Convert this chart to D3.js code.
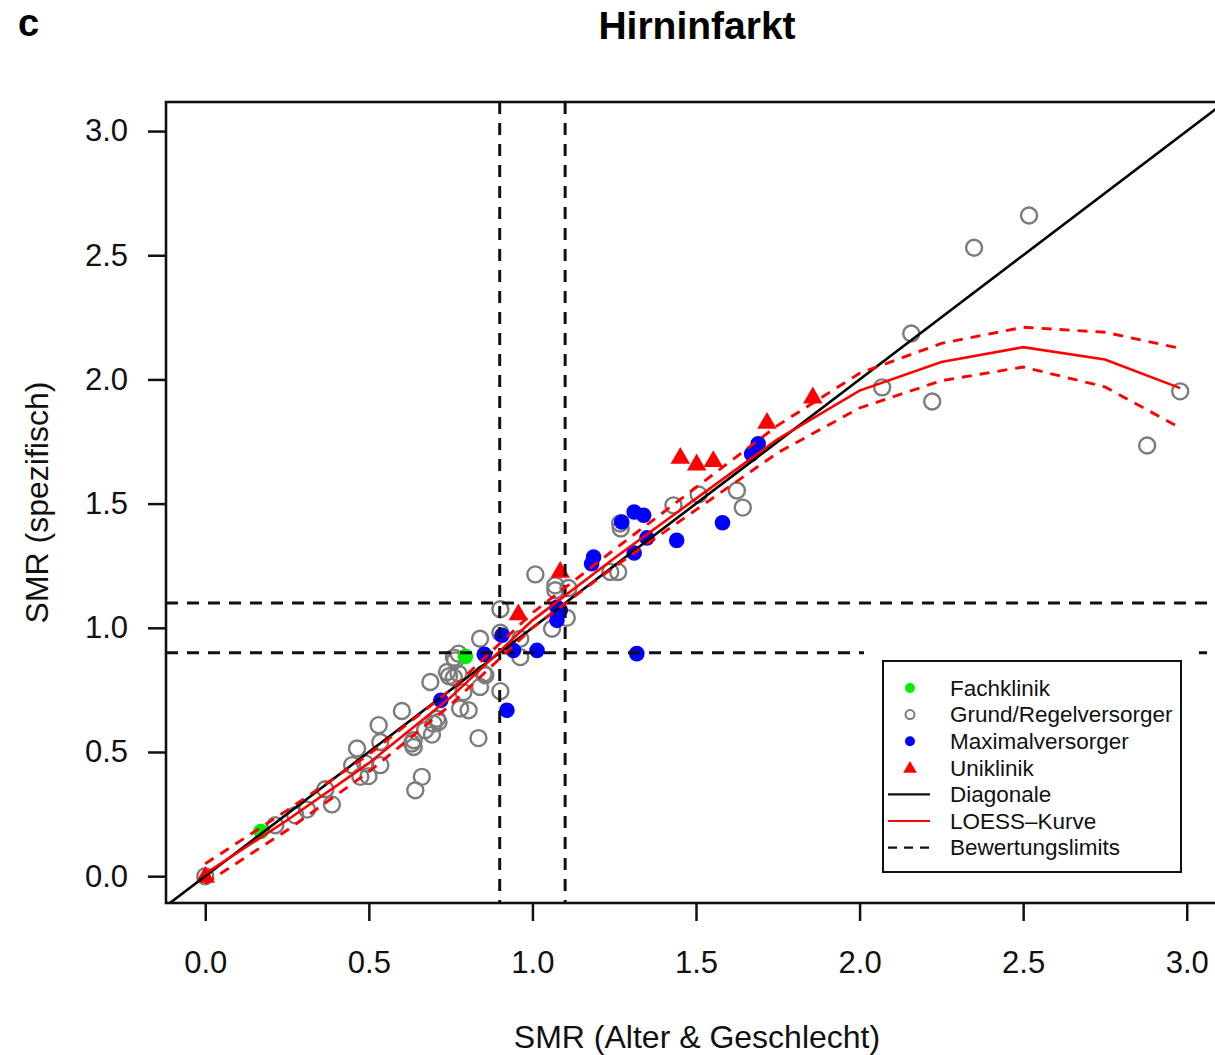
<!DOCTYPE html>
<html>
<head>
<meta charset="utf-8">
<script src="https://cdn.jsdelivr.net/npm/d3@7"></script>
<style>
  body { margin: 0; background: #fff; }
  svg { display: block; font-family: "Liberation Sans", Arial, Helvetica, sans-serif; }
</style>
</head>
<body>
<svg id="chart" width="1215" height="1055"></svg>
<script>
// Data: [SMR Alter & Geschlecht, SMR spezifisch]
const grundRegel = [
  [2.518, 2.66], [2.35, 2.53], [2.158, 2.185], [2.069, 1.968], [2.222, 1.911], [2.98, 1.952], [2.879, 1.734],
  [1.625, 1.553], [1.643, 1.484], [1.508, 1.537], [1.431, 1.493], [1.268, 1.42], [1.27, 1.40],
  [1.238, 1.225], [1.262, 1.225], [1.009, 1.215], [1.07, 1.171], [1.07, 1.151], [1.11, 1.16],
  [0.902, 1.075], [1.105, 1.04], [1.06, 0.996], [0.902, 0.98], [0.963, 0.956], [0.84, 0.956], [0.963, 0.882],
  [0.851, 0.815], [0.774, 0.896], [0.764, 0.869], [0.76, 0.88], [0.688, 0.782], [0.739, 0.822], [0.745, 0.805],
  [0.76, 0.80], [0.774, 0.816], [0.856, 0.809], [0.84, 0.762], [0.789, 0.741], [0.779, 0.675], [0.805, 0.668],
  [0.835, 0.556], [0.902, 0.745], [0.601, 0.665], [0.53, 0.608], [0.535, 0.54], [0.464, 0.514], [0.489, 0.454],
  [0.474, 0.4], [0.499, 0.403], [0.535, 0.447], [0.449, 0.447], [0.637, 0.547], [0.637, 0.52], [0.693, 0.57],
  [0.713, 0.621], [0.698, 0.614], [0.672, 0.588], [0.708, 0.634], [0.632, 0.534], [0.642, 0.346], [0.662, 0.4],
  [0.387, 0.289], [0.367, 0.35], [0.311, 0.268], [0.275, 0.245], [0.214, 0.205], [0.0, 0.0]
];
const maximal = [
  [1.187, 1.285], [1.181, 1.258], [1.273, 1.426], [1.311, 1.466], [1.34, 1.453], [1.35, 1.362], [1.311, 1.301],
  [1.441, 1.352], [1.581, 1.423], [1.67, 1.70], [1.69, 1.741], [1.075, 1.083], [1.085, 1.07], [1.075, 1.03],
  [0.853, 0.893], [0.942, 0.909], [1.014, 0.909], [1.319, 0.896], [0.907, 0.97], [0.922, 0.668], [0.72, 0.708]
];
const fachklinik = [[0.795, 0.885], [0.17, 0.18]];
const uniklinik = [
  [1.452, 1.687], [1.502, 1.66], [1.553, 1.674], [1.717, 1.828], [1.857, 1.93], [1.085, 1.228], [0.957, 1.057], [0.0, 0.0]
];

// LOESS fit with band
const loessX  = [0, 0.25, 0.5, 0.75, 1.0, 1.25, 1.5, 1.75, 2.0, 2.25, 2.5, 2.75, 2.98];
const loessY  = [0.01, 0.225, 0.455, 0.72, 1.03, 1.28, 1.52, 1.76, 1.955, 2.07, 2.13, 2.08, 1.965];
const loessHi = [0.05, 0.265, 0.49, 0.75, 1.06, 1.315, 1.565, 1.815, 2.025, 2.145, 2.21, 2.19, 2.125];
const loessLo = [-0.03, 0.185, 0.42, 0.69, 1.0, 1.245, 1.475, 1.705, 1.885, 1.995, 2.05, 1.97, 1.805];

const limits = [0.9, 1.1];
const tickValues = [0, 0.5, 1, 1.5, 2, 2.5, 3];
const legendLabels = ['Fachklinik', 'Grund/Regelversorger', 'Maximalversorger', 'Uniklinik', 'Diagonale', 'LOESS\u2013Kurve', 'Bewertungslimits'];

const svg = d3.select('#chart');
const plot = { left: 166, right: 1226, top: 102, bottom: 903 };

// Scales
const x = d3.scaleLinear().domain([-0.12, 3.12]).range([plot.left, plot.right]);
const y = d3.scaleLinear().domain([-0.108, 3.117]).range([plot.bottom, plot.top]);

svg.append('defs').append('clipPath').attr('id', 'clip')
  .append('rect')
  .attr('x', plot.left).attr('y', plot.top)
  .attr('width', plot.right - plot.left).attr('height', plot.bottom - plot.top);

// Titles
svg.append('text').attr('x', 18).attr('y', 36)
  .style('font-size', '38px').style('font-weight', 'bold').text('c');
svg.append('text').attr('x', 697).attr('y', 39).attr('text-anchor', 'middle')
  .style('font-size', '39px').style('font-weight', 'bold').text('Hirninfarkt');

// Axes
const xAxis = d3.axisBottom(x).tickValues(tickValues).tickFormat(d3.format('.1f'))
  .tickSizeOuter(0).tickSizeInner(18).tickPadding(30);
const yAxis = d3.axisLeft(y).tickValues(tickValues).tickFormat(d3.format('.1f'))
  .tickSizeOuter(0).tickSizeInner(18).tickPadding(20);

const gx = svg.append('g').attr('transform', `translate(0,${plot.bottom})`).call(xAxis);
const gy = svg.append('g').attr('transform', `translate(${plot.left},0)`).call(yAxis);
[gx, gy].forEach(g => {
  g.select('.domain').remove();
  g.selectAll('.tick line').attr('stroke', '#111').attr('stroke-width', 2.5);
  g.selectAll('.tick text').attr('fill', '#111').style('font-size', '31px')
    .style('font-family', '"Liberation Sans", Arial, sans-serif');
});

svg.append('text').attr('x', 697).attr('y', 1048).attr('text-anchor', 'middle')
  .style('font-size', '32px').attr('fill', '#111').text('SMR (Alter & Geschlecht)');
svg.append('text').attr('transform', `translate(48,${(plot.top + plot.bottom) / 2}) rotate(-90)`)
  .attr('text-anchor', 'middle').style('font-size', '32px').attr('fill', '#111').text('SMR (spezifisch)');

const data = svg.append('g').attr('clip-path', 'url(#clip)');

// Points
data.selectAll('circle.grund').data(grundRegel).enter().append('circle')
  .attr('class', 'grund')
  .attr('cx', d => x(d[0])).attr('cy', d => y(d[1])).attr('r', 8)
  .attr('fill', 'none').attr('stroke', '#7c7c7c').attr('stroke-width', 2.4);

data.selectAll('circle.maximal').data(maximal).enter().append('circle')
  .attr('class', 'maximal')
  .attr('cx', d => x(d[0])).attr('cy', d => y(d[1])).attr('r', 7.8)
  .attr('fill', '#0000ff');

data.selectAll('circle.fach').data(fachklinik).enter().append('circle')
  .attr('class', 'fach')
  .attr('cx', d => x(d[0])).attr('cy', d => y(d[1])).attr('r', 7.8)
  .attr('fill', '#00ee00');

const tri = d3.symbol().type(d3.symbolTriangle).size(165);
data.selectAll('path.uni').data(uniklinik).enter().append('path')
  .attr('class', 'uni')
  .attr('d', tri)
  .attr('transform', d => `translate(${x(d[0])},${y(d[1]) + 1})`)
  .attr('fill', '#ff0000');

// Bewertungslimits
limits.forEach(v => {
  data.append('line')
    .attr('x1', x(v)).attr('x2', x(v)).attr('y1', plot.top).attr('y2', plot.bottom)
    .attr('stroke', '#111').attr('stroke-width', 3).attr('stroke-dasharray', '12,9');
  data.append('line')
    .attr('x1', plot.left).attr('x2', plot.right).attr('y1', y(v)).attr('y2', y(v))
    .attr('stroke', '#111').attr('stroke-width', 3).attr('stroke-dasharray', '12,9');
});

// Diagonale
data.append('line')
  .attr('x1', x(-0.12)).attr('y1', y(-0.12)).attr('x2', x(3.2)).attr('y2', y(3.2))
  .attr('stroke', '#000').attr('stroke-width', 2.6);

// LOESS curve and band
const line = d3.line().x(d => x(d[0])).y(d => y(d[1]));
const zip = ys => loessX.map((v, i) => [v, ys[i]]);

data.append('path').attr('d', line(zip(loessY)))
  .attr('fill', 'none').attr('stroke', '#ff0000').attr('stroke-width', 2.6);
[loessHi, loessLo].forEach(band => {
  data.append('path').attr('d', line(zip(band)))
    .attr('fill', 'none').attr('stroke', '#ff0000').attr('stroke-width', 2.9)
    .attr('stroke-dasharray', '10,8');
});

// Plot frame
svg.append('rect')
  .attr('x', plot.left).attr('y', plot.top)
  .attr('width', plot.right - plot.left).attr('height', plot.bottom - plot.top)
  .attr('fill', 'none').attr('stroke', '#111').attr('stroke-width', 2.6);

// Legend
const legend = svg.append('g');
legend.append('rect').attr('x', 864).attr('y', 642).attr('width', 335).attr('height', 245).attr('fill', '#fff');
legend.append('rect').attr('x', 883).attr('y', 661).attr('width', 298).attr('height', 211)
  .attr('fill', '#fff').attr('stroke', '#111').attr('stroke-width', 2);

const rowY = i => 688 + i * 26.6;
const items = legend.selectAll('g.legend-item').data(legendLabels).enter().append('g')
  .attr('class', 'legend-item')
  .attr('transform', (d, i) => `translate(0,${rowY(i)})`);

items.append('text').attr('x', 950).attr('dy', '0.35em')
  .style('font-size', '22.5px').attr('fill', '#111').text(d => d);

items.each(function(d, i) {
  const g = d3.select(this);
  if (i === 0) g.append('circle').attr('cx', 910).attr('r', 5).attr('fill', '#00ee00');
  if (i === 1) g.append('circle').attr('cx', 910).attr('r', 4.5).attr('fill', 'none')
    .attr('stroke', '#7c7c7c').attr('stroke-width', 2);
  if (i === 2) g.append('circle').attr('cx', 910).attr('r', 5).attr('fill', '#0000ff');
  if (i === 3) g.append('path').attr('d', d3.symbol().type(d3.symbolTriangle).size(80))
    .attr('transform', 'translate(910,1)').attr('fill', '#ff0000');
  if (i >= 4) g.append('line').attr('x1', 888).attr('x2', 930)
    .attr('stroke', i === 5 ? '#ff0000' : '#111').attr('stroke-width', 2.2)
    .attr('stroke-dasharray', i === 6 ? '9,7' : null);
});
</script>
</body>
</html>
